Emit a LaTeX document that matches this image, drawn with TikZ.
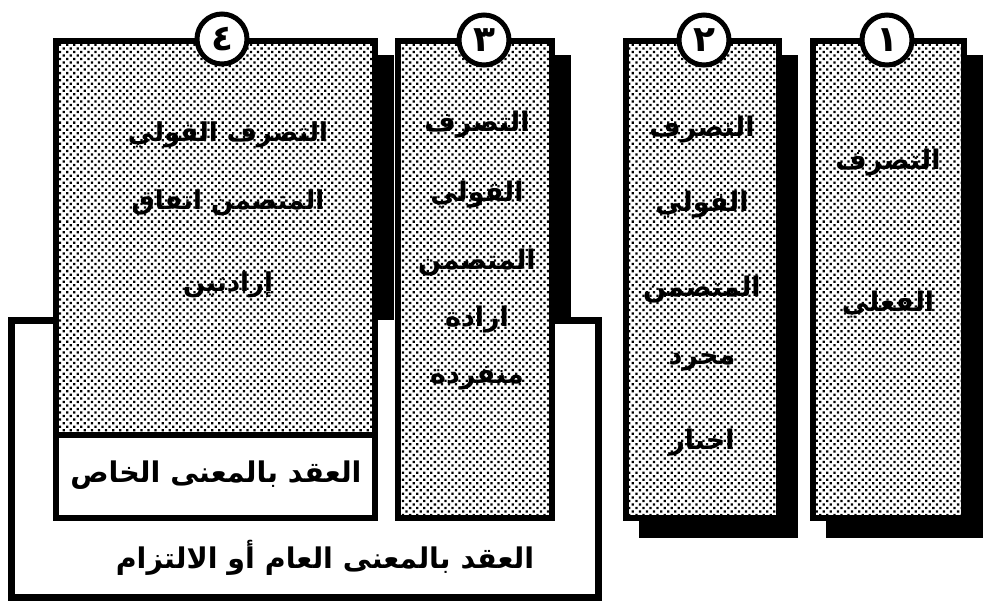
\documentclass[tikz,border=0pt]{standalone}
\usepackage{fontspec}
\newfontfamily\arabicfont[Script=Arabic]{DejaVu Sans}
\TeXXeTstate=1
\usetikzlibrary{patterns.meta}
\begin{document}
\begin{tikzpicture}[x=1pt,y=-1pt,
  panelbox/.style={line width=6pt, draw=black, preaction={fill=white},
    pattern={Dots[distance=5pt,radius=1.6pt,angle=45]}, pattern color=black},
  shadowbox/.style={fill=black},
  whitebox/.style={line width=6pt, draw=black, fill=white},
  numcircle/.style={circle, draw=black, line width=5pt, fill=white,
    minimum size=50pt, inner sep=0pt,
    font=\arabicfont\bfseries\fontsize{36}{36}\selectfont},
  ptext/.style={font=\arabicfont\bfseries\fontsize{27}{27}\selectfont, inner sep=0pt},
  p4text/.style={font=\arabicfont\bfseries\fontsize{26}{26}\selectfont, inner sep=0pt},
  ltext/.style={font=\arabicfont\bfseries\fontsize{28.5}{28.5}\selectfont, inner sep=0pt}]
\useasboundingbox (0,0) rectangle (989,607);

% shadows
\fill[shadowbox] (70,55) rectangle (394,538);
\fill[shadowbox] (411,55) rectangle (571,538);
\fill[shadowbox] (639,55) rectangle (798,538);
\fill[shadowbox] (826,55) rectangle (983,538);

% big outer box
\fill[white] (11,320) rectangle (598.5,597);
\draw[line width=7pt, line join=miter] (56,320) -- (11,320) -- (11,597) -- (598.5,597) -- (598.5,320) -- (552,320);

% panels
\path[panelbox] (56,41) rectangle (375,518);
\path[panelbox] (398,41) rectangle (552,518);
\path[panelbox] (626,41) rectangle (779,518);
\path[panelbox] (813,41) rectangle (964,518);

% white strip in panel 4
\path[whitebox] (56,434.5) rectangle (375,518);

% number circles
\node[numcircle] (c4) at (222,39) {٤};
\node[numcircle] (c3) at (484,40) {٣};
\node[numcircle] (c2) at (704,40) {٢};
\node[numcircle] (c1) at (887,40) {١};

% panel 1
\node[ptext] (p1a) at (888,163) {\beginR التصرف\endR};
\node[ptext] (p1b) at (888,305) {\beginR الفعلي\endR};

% panel 2
\node[ptext] (p2a) at (702,130) {\beginR التصرف\endR};
\node[ptext] (p2b) at (702,205) {\beginR القولي\endR};
\node[ptext] (p2c) at (702,290) {\beginR المتضمن\endR};
\node[ptext] (p2d) at (702,362) {\beginR مجرد\endR};
\node[ptext] (p2e) at (702,443) {\beginR اخبار\endR};

% panel 3
\node[ptext] (p3a) at (477,125) {\beginR التصرف\endR};
\node[ptext] (p3b) at (477,195) {\beginR القولي\endR};
\node[ptext] (p3c) at (477,263) {\beginR المتضمن\endR};
\node[ptext] (p3d) at (477,320) {\beginR ارادة\endR};
\node[ptext] (p3e) at (477,378) {\beginR منفردة\endR};

% panel 4
\node[p4text] (p4a) at (228,135) {\beginR التصرف القولي\endR};
\node[p4text] (p4b) at (228,203) {\beginR المتضمن اتفاق\endR};
\node[p4text] (p4c) at (228,285) {\beginR إرادتين\endR};

% labels
\node[ltext] (lk) at (216,475) {\beginR العقد بالمعنى الخاص\endR};
\node[ltext] (lg) at (325,558) {\beginR العقد بالمعنى العام أو الالتزام\endR};
\end{tikzpicture}
\end{document}
